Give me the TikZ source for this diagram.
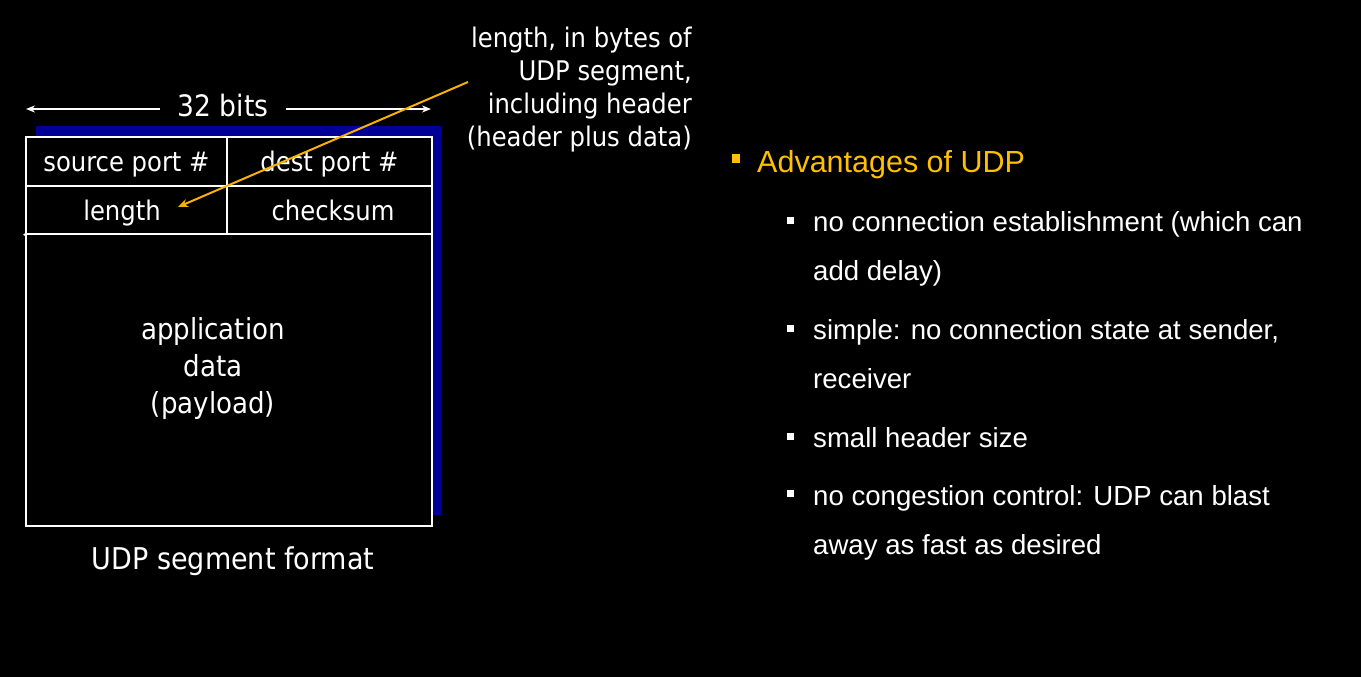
\documentclass[tikz,border=0pt]{standalone}
\usepackage{fontspec}
\setmainfont{DejaVu Sans}
\newfontfamily\figfont{DejaVu Sans Condensed}
\newfontfamily\listfont{Liberation Sans}
\usetikzlibrary{arrows.meta}
\definecolor{shadowblue}{RGB}{0,0,150}
\definecolor{headamber}{RGB}{255,192,0}
\definecolor{pointeramber}{RGB}{250,178,0}
\begin{document}
\begin{tikzpicture}[x=1pt,y=-1pt,
  cell/.style={draw=white, fill=black, line width=2pt, minimum width=#1, minimum height=48.5pt,
    inner sep=0pt, text=white, text height=23.5pt, text depth=3.5pt,
    font=\figfont\fontsize{27}{30}\selectfont},
  figtext/.style={text=white, inner sep=0pt, font=\figfont\fontsize{29}{37}\selectfont},
  notetext/.style={text=white, inner sep=0pt, align=right, font=\figfont\fontsize{27}{33}\selectfont},
  itemtext/.style={text=white, inner sep=0pt, anchor=base west, align=left,
    font=\listfont\fontsize{27.6}{49}\selectfont},
  bulletsq/.style={fill=white, minimum size=7pt, inner sep=0pt},
  widthdim/.style={white, line width=1.6pt, -{Stealth[length=9pt,width=7pt]}}
]
% page and shadow behind the segment
\fill[black] (0,0) rectangle (1361,677);
\useasboundingbox (0,0) rectangle (1361,677);
\fill[shadowblue] (36,126) rectangle (441,515);

% segment payload area and header cells
\node[draw=white, fill=black, line width=2pt, minimum width=406pt, minimum height=389pt, inner sep=0pt]
  (payload) at (229,331.5) {};
\node[cell=201pt] (src) at (126.5,161.5) {source port \#};
\node[cell=205pt] (dst) at (329.5,161.5) {dest port \#};
\node[cell=201pt] (len) at (126.5,210) {\hspace{-9pt}length};
\node[cell=205pt] (chk) at (329.5,210) {\hspace{7pt}checksum};
\draw[white, line width=2pt] (24,234) -- (len.south west);
\node[figtext, align=center] (ptext) at (213,368) {application\\data\\(payload)};

% width dimension above the header
\node[figtext, font=\figfont\fontsize{29.5}{34}\selectfont, inner xsep=17pt] (bits) at (223,106) {32 bits};
\coordinate (dimL) at (26,109);
\coordinate (dimR) at (431,109);
\draw[widthdim] (bits.west |- dimL) -- (dimL);
\draw[widthdim] (bits.east |- dimR) -- (dimR);

% caption
\node[figtext, font=\figfont\fontsize{30}{34}\selectfont] (caption) at (233,561) {UDP segment format};

% note on the length field
\node[notetext, anchor=north east] (note) at (692,27)
  {length, in bytes of\\UDP segment,\\including header\\(header plus data)};
\coordinate (noteTail) at (468,82);
\coordinate (lenHead) at (178,207);
\draw[pointeramber, line width=2pt, -{Stealth[length=10pt,width=8pt]}] (noteTail) -- (lenHead);

% advantages list (base anchors sit on the last line of each item)
\node[fill=headamber, minimum width=8pt, minimum height=9pt, inner sep=0pt] (hbul) at (736,158) {};
\node[text=headamber, inner sep=0pt, anchor=base west, font=\listfont\fontsize{30.5}{36}\selectfont]
  (head) at (757,172) {Advantages of UDP};

\node[bulletsq] (b1) at (790.5,220.5) {};
\node[itemtext] (i1) at (813,280) {no connection establishment (which can\\add delay)};
\node[bulletsq] (b2) at (790.5,328.5) {};
\node[itemtext] (i2) at (813,388) {simple: no connection state at sender,\\receiver};
\node[bulletsq] (b3) at (790.5,436.5) {};
\node[itemtext] (i3) at (813,447) {small header size};
\node[bulletsq] (b4) at (790.5,493.5) {};
\node[itemtext] (i4) at (813,554) {no congestion control: UDP can blast\\away as fast as desired};
\end{tikzpicture}
\end{document}
